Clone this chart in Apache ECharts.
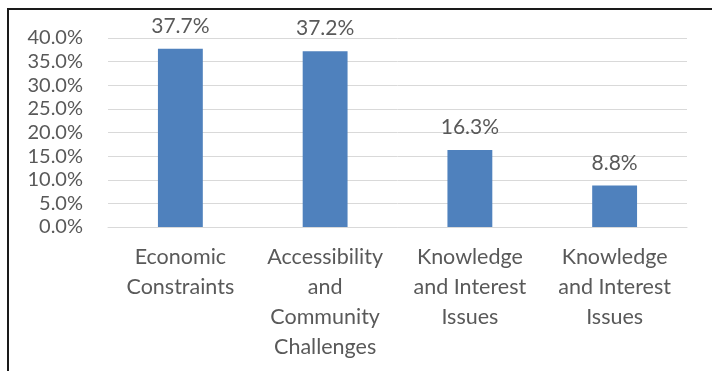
<!DOCTYPE html>
<html>
<head>
<meta charset="utf-8">
<script src="https://cdn.jsdelivr.net/npm/echarts@6/dist/echarts.min.js"></script>
<style>
  html, body { margin: 0; padding: 0; background: #fff; }
  #chart { width: 712px; height: 371px; }
</style>
</head>
<body>
<div id="chart"></div>
<script>
// Share of respondents per barrier category (percent)
const categories = [
  'Economic\nConstraints',
  'Accessibility\nand\nCommunity\nChallenges',
  'Knowledge\nand Interest\nIssues',
  'Knowledge\nand Interest\nIssues'
];
const shares = [37.7, 37.2, 16.3, 8.8];
const yTicks = { min: 0, max: 40, step: 5 };

const FONT = 'Lato';
const TEXT = '#595959';

const chart = echarts.init(document.getElementById('chart'), null, { renderer: 'canvas' });
chart.setOption({
  animation: false,
  grid: { left: 108, right: 25, top: 38, bottom: 144 },
  xAxis: {
    type: 'category',
    // zero-width suffixes keep the two identical names as separate categories
    data: categories.map((c, i) => ({ value: c + '\u200b'.repeat(i) })),
    axisLine: { show: true, lineStyle: { color: '#D9D9D9', width: 1 } },
    axisTick: { show: false },
    axisLabel: {
      color: TEXT, fontFamily: FONT, fontSize: 21.5, lineHeight: 30,
      margin: 15, interval: 0, align: 'center',
      formatter: v => v.replace(/\u200b/g, '')
    }
  },
  yAxis: {
    type: 'value',
    min: yTicks.min, max: yTicks.max, interval: yTicks.step,
    axisLine: { show: false },
    axisTick: { show: false },
    splitLine: { lineStyle: { color: '#D9D9D9', width: 1 } },
    axisLabel: {
      color: TEXT, fontFamily: FONT, fontSize: 20, margin: 25,
      formatter: v => v.toFixed(1) + '%'
    }
  },
  series: [{
    type: 'bar',
    data: shares,
    barWidth: '31%',
    itemStyle: { color: '#4F81BD' },
    label: {
      show: true, position: 'top', distance: 12,
      color: TEXT, fontFamily: FONT, fontSize: 21,
      formatter: p => p.value.toFixed(1) + '%'
    }
  }],
  graphic: [
    { type: 'line', shape: { x1: 8, y1: 9, x2: 712, y2: 9 }, style: { stroke: '#1a1a1a', lineWidth: 2 } },
    { type: 'line', shape: { x1: 8, y1: 8, x2: 8, y2: 371 }, style: { stroke: '#1a1a1a', lineWidth: 2 } }
  ]
});
</script>
</body>
</html>
